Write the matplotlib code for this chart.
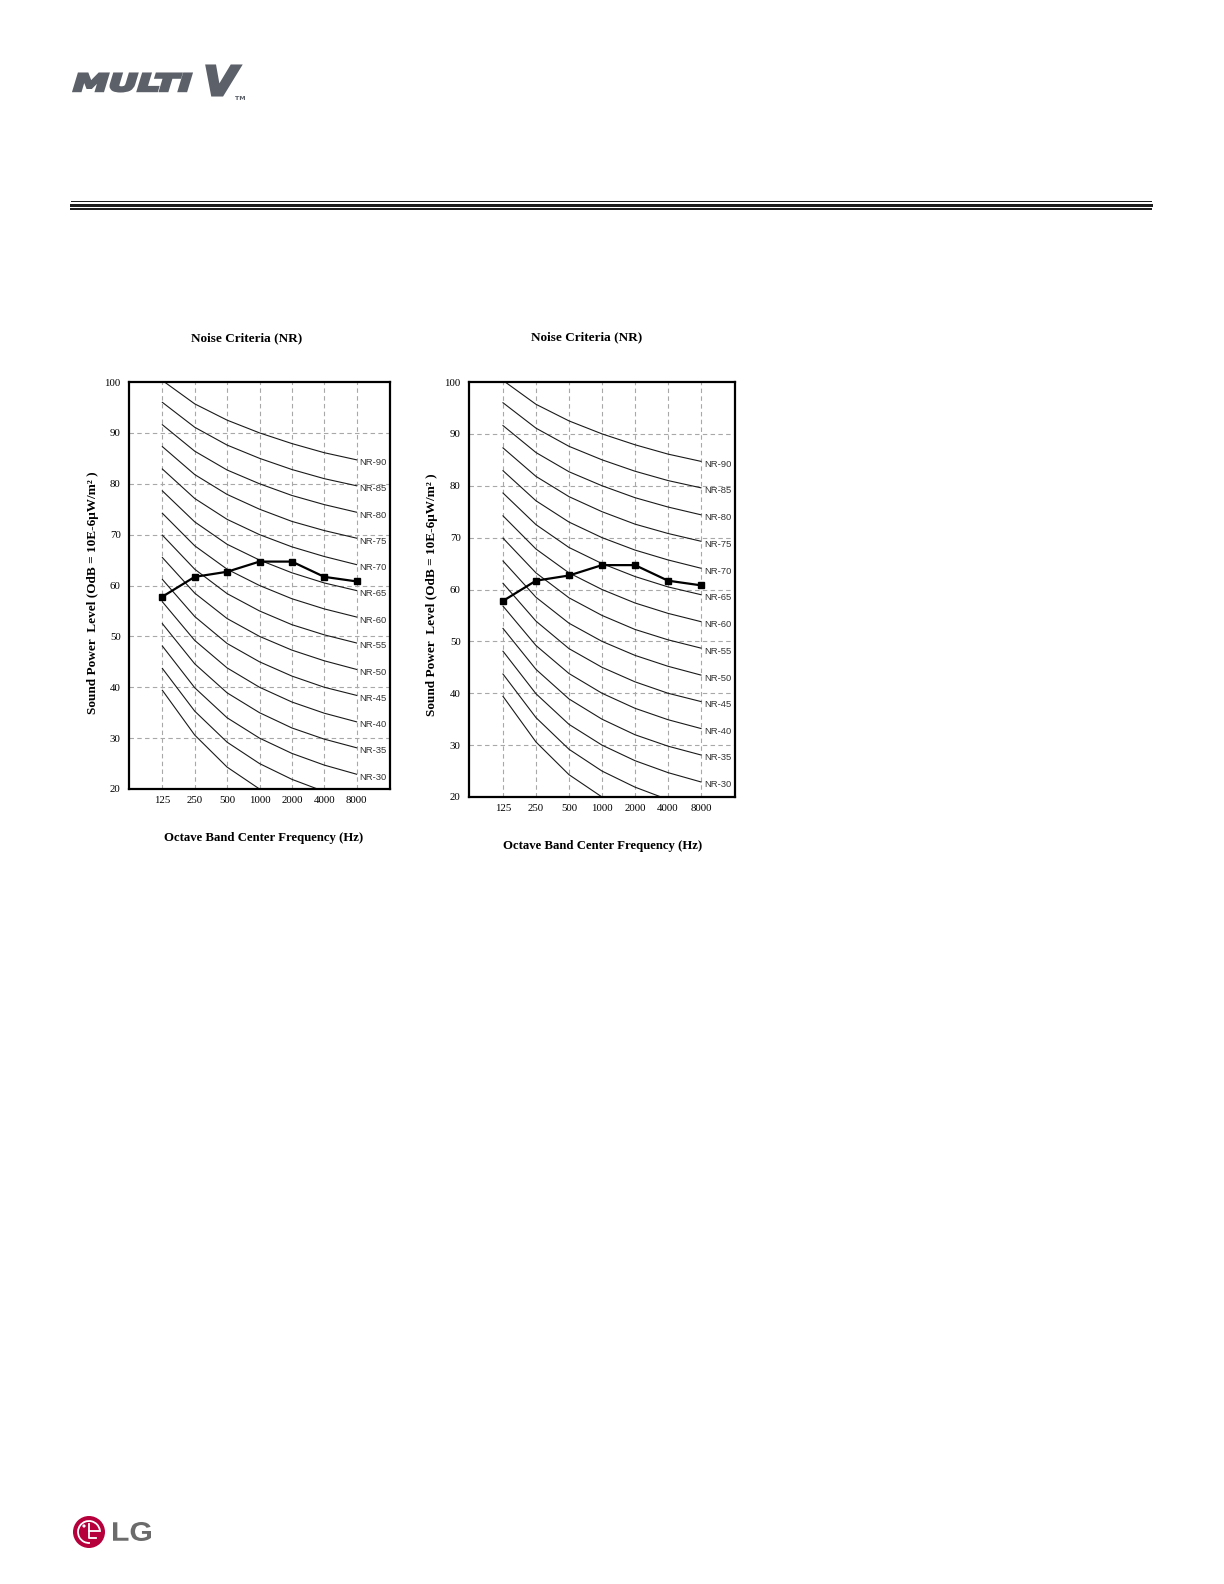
"""LG Multi V sound power spectrum page: two NR (noise rating) charts."""

import matplotlib

matplotlib.use("Agg")
import matplotlib.pyplot as plt  # noqa: E402
from matplotlib.font_manager import FontProperties  # noqa: E402
from matplotlib.patches import Arc, Circle, PathPatch  # noqa: E402
from matplotlib.textpath import TextPath  # noqa: E402
from matplotlib.transforms import Affine2D  # noqa: E402

W, H = 1224, 1584

FREQS = ["125", "250", "500", "1000", "2000", "4000", "8000"]
Y_TICKS = [20, 30, 40, 50, 60, 70, 80, 90, 100]

# NR curves, 125 Hz .. 8000 Hz
NR90 = [100.3, 95.7, 92.5, 90.0, 87.9, 86.1, 84.7]
NR85 = [96.0, 91.1, 87.6, 85.0, 82.8, 81.0, 79.6]
NR80 = [91.6, 86.4, 82.7, 80.0, 77.7, 75.9, 74.4]
NR75 = [87.3, 81.8, 77.9, 75.0, 72.6, 70.8, 69.3]
NR70 = [82.9, 77.1, 73.0, 70.0, 67.6, 65.7, 64.1]
NR65 = [78.6, 72.5, 68.1, 65.0, 62.5, 60.5, 59.0]
NR60 = [74.2, 67.8, 63.2, 60.0, 57.4, 55.4, 53.8]
NR55 = [69.9, 63.2, 58.4, 55.0, 52.3, 50.3, 48.7]
NR50 = [65.5, 58.5, 53.5, 50.0, 47.3, 45.2, 43.5]
NR45 = [61.2, 53.9, 48.6, 45.0, 42.2, 40.0, 38.4]
NR40 = [56.8, 49.2, 43.8, 40.0, 37.1, 34.9, 33.2]
NR35 = [52.5, 44.6, 38.9, 35.0, 32.0, 29.8, 28.1]
NR30 = [48.1, 39.9, 34.0, 30.0, 27.0, 24.7, 22.9]
NR25 = [43.7, 35.3, 29.2, 25.0, 21.9, 19.5, 17.8]
NR20 = [39.4, 30.6, 24.3, 20.0, 16.9, 14.4, 12.6]

NR_NAMES = ["NR-90", "NR-85", "NR-80", "NR-75", "NR-70", "NR-65", "NR-60",
            "NR-55", "NR-50", "NR-45", "NR-40", "NR-35", "NR-30", None, None]
NR_CURVES = [NR90, NR85, NR80, NR75, NR70, NR65, NR60, NR55, NR50, NR45,
             NR40, NR35, NR30, NR25, NR20]

# measured sound power level of the unit
MEASURED = [57.8, 61.7, 62.7, 64.7, 64.7, 61.7, 60.8]

TITLE = "Noise Criteria (NR)"
XLABEL = "Octave Band Center Frequency (Hz)"
YLABEL = "Sound Power  Level (OdB = 10E-6\u03bcW/m\u00b2 )"

plt.rcParams["font.family"] = ["Liberation Serif", "DejaVu Serif"]


def box(l, t, r, b):
    """Pixel box (top-left origin) -> figure fraction rect."""
    return [l / W, 1 - b / H, (r - l) / W, (b - t) / H]


def fig_text(fig, x, y, s, **kw):
    fig.text(x / W, 1 - y / H, s, **kw)


def fit_text(fig, s, l, t, r, b, color, prop, stroke=0.0):
    """Draw s as a path stretched to fill a pixel box."""
    path = TextPath((0, 0), s, size=100, prop=prop)
    ext = path.get_extents()
    sx = (r - l) / ext.width
    sy = (b - t) / ext.height
    tr = (Affine2D().translate(-ext.x0, -ext.y0).scale(sx, sy)
          .translate(l, H - b).scale(1 / W, 1 / H) + fig.transFigure)
    fig.add_artist(PathPatch(path, transform=tr, facecolor=color,
                             edgecolor=color, lw=stroke, joinstyle="miter"))


def nr_chart(fig, rect, title_xy, xlabel_xy, ylabel_xy):
    ax = fig.add_axes(box(*rect))
    xs = range(len(FREQS))
    for name, curve in zip(NR_NAMES, NR_CURVES):
        ax.plot(xs, curve, color="#1a1a1a", lw=0.8, zorder=2)
        if name:
            ax.annotate(name, (xs[-1], curve[-1]), xytext=(3, -3),
                        textcoords="offset pixels", va="center", ha="left",
                        fontsize=6.8, family="Liberation Sans", color="#333333")
    ax.plot(xs, MEASURED, color="black", lw=1.6, marker="s", ms=5, zorder=4)

    ax.set_xlim(-1.03, 7.03)
    ax.set_ylim(20, 100)
    ax.set_xticks(list(xs), FREQS)
    ax.set_yticks(Y_TICKS)
    ax.tick_params(length=0, labelsize=7.8)
    ax.tick_params(axis="y", pad=6)
    ax.tick_params(axis="x", pad=5)
    for x in xs:
        ax.axvline(x, color="#a8a8a8", lw=0.8, ls=(0, (4, 3)), zorder=1)
    for y in Y_TICKS[1:-1]:
        ax.axhline(y, color="#a8a8a8", lw=0.8, ls=(0, (4, 3)), zorder=1)
    for sp in ax.spines.values():
        sp.set_linewidth(1.6)

    fig_text(fig, *title_xy, TITLE, ha="center", va="center",
             fontsize=9.5, fontweight="bold")
    fig_text(fig, *xlabel_xy, XLABEL, ha="center", va="center",
             fontsize=9.2, fontweight="bold")
    fig_text(fig, *ylabel_xy, YLABEL, ha="center", va="center",
             fontsize=9.5, fontweight="bold", rotation=90)


def main() -> None:
    fig = plt.figure(figsize=(W / 100, H / 100), dpi=100)

    # header logo
    logo = "#5b6069"
    heavy = FontProperties(family="DejaVu Sans", weight="bold", style="italic")
    fit_text(fig, "MULTI", 74, 74, 191, 91, logo, heavy, stroke=2.2)
    fit_text(fig, "V", 207, 66, 240, 95, logo, heavy, stroke=2.2)
    fit_text(fig, "TM", 235, 96, 245, 100, logo,
             FontProperties(family="DejaVu Sans", weight="bold"))

    # triple rule under header
    for y, lw in [(201, 1.0), (204.5, 3.0), (208.5, 2.0)]:
        fig.add_artist(plt.Line2D([71 / W, 1151 / W], [1 - y / H] * 2,
                                  transform=fig.transFigure, color="#1e1e1e",
                                  lw=lw * 0.72))

    nr_chart(fig, (129, 382, 390, 789), (247, 338), (264, 838), (93, 593))
    nr_chart(fig, (469, 382, 735, 797), (587, 337), (603, 846), (432, 595))

    # footer LG logo
    face = Affine2D().scale(1 / W, 1 / H) + fig.transFigure
    fig.add_artist(Circle((89, H - 1532), 16, color="#b5003c", lw=0,
                          transform=face))
    fig.add_artist(Arc((89, H - 1532), 22, 22, theta1=10, theta2=275,
                       color="white", lw=1.3, transform=face))
    fig.add_artist(plt.Line2D([89, 89, 96], [H - 1524, H - 1538, H - 1538],
                              color="white", lw=1.3, transform=face))
    fig.add_artist(plt.Line2D([89, 100], [H - 1531, H - 1531],
                              color="white", lw=1.3, transform=face))
    fig.add_artist(Circle((84, H - 1526), 1.6, color="white", lw=0, transform=face))
    fit_text(fig, "LG", 113, 1522, 151, 1541, "#6b6b6b",
             FontProperties(family="Liberation Sans", weight="bold"))

    fig.savefig("out.png", dpi=100)
    plt.close(fig)


if __name__ == "__main__":
    main()
